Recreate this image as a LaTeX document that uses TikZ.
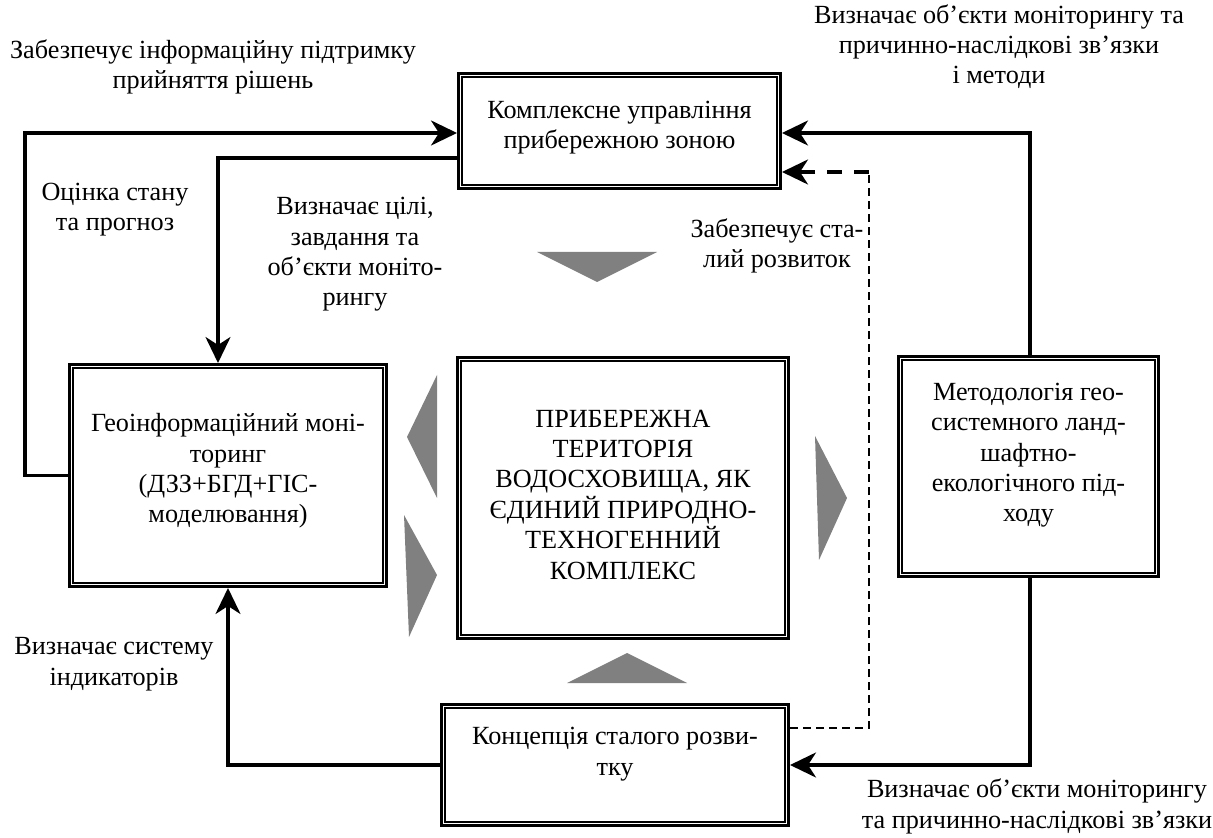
\documentclass[tikz,border=0pt]{standalone}
\usepackage{fontspec}
\setmainfont{Liberation Serif}
\usetikzlibrary{arrows.meta}

\tikzset{
  frame/.style={draw, line width=1.5pt, inner sep=0pt},
  txt/.style={align=center, anchor=base, inner sep=0pt, font=\fontsize{13.1}{15.2}\selectfont},
  link/.style={line width=1.6pt, -{Stealth[length=13pt, width=12.5pt, inset=4pt]}},
  wedge/.style={fill=gray, draw=none}
}

\begin{document}
\begin{tikzpicture}[x=0.5pt, y=-0.5pt]
    \useasboundingbox (0,0) rectangle (1213,838);
    % frames
    \node[frame, minimum width=161pt, minimum height=57.5pt] (kuz) at (619.5,131) {};
    \node[frame, minimum width=158.5pt, minimum height=111pt] (geo) at (228,475.5) {};
    \node[frame, minimum width=165.5pt, minimum height=140.5pt] (pt) at (623,498) {};
    \node[frame, minimum width=130pt, minimum height=110pt] (met) at (1028.5,466.5) {};
    \node[frame, minimum width=173.5pt, minimum height=60.5pt] (kon) at (615,765) {};
    \foreach \b in {kuz,geo,pt,met,kon}
      \draw[line width=0.75pt] ([shift={(5,5)}]\b.north west) rectangle ([shift={(-5,-5)}]\b.south east);

    % texts in frames (base = last line)
    \node[txt] (kuzt) at (619.5,149) {Комплексне управління\\прибережною зоною};
    \node[txt] (geot) at (228,523) {Геоінформаційний моні-\\торинг\\(ДЗЗ+БГД+ГІС-\\моделювання)};
    \node[txt] (ptt) at (623,579) {ПРИБЕРЕЖНА\\ТЕРИТОРІЯ\\ВОДОСХОВИЩА, ЯК\\ЄДИНИЙ ПРИРОДНО-\\ТЕХНОГЕННИЙ\\КОМПЛЕКС};
    \node[txt] (mett) at (1028.5,522) {Методологія гео-\\системного ланд-\\шафтно-\\екологічного під-\\ходу};
    \node[txt] (kont) at (615,775) {Концепція сталого розви-\\тку};

    % labels
    \node[txt] (l1) at (213,89) {Забезпечує інформаційну підтримку\\прийняття рішень};
    \node[txt] (l2) at (115,231) {Оцінка стану\\та прогноз};
    \node[txt] (l3) at (355,306) {Визначає цілі,\\завдання та\\об’єкти моніто-\\рингу};
    \node[txt] (l4) at (777,268) {Забезпечує ста-\\лий розвиток};
    \node[txt] (l5) at (999,84) {Визначає об’єкти моніторингу та\\причинно-наслідкові зв’язки\\і методи};
    \node[txt] (l6) at (114,685) {Визначає систему\\індикаторів};
    \node[txt] (l7) at (1037,828) {Визначає об’єкти моніторингу\\та причинно-наслідкові зв’язки};

    % grey wedges
    \fill[wedge] (537,252) -- (657,252) -- (597,282) -- cycle;
    \fill[wedge] (567,683) -- (687,683) -- (627,653) -- cycle;
    \fill[wedge] (437,375) -- (437,498) -- (407,437) -- cycle;
    \fill[wedge] (404,515) -- (409,637) -- (437,575) -- cycle;
    \fill[wedge] (815,436) -- (819,560) -- (847,498) -- cycle;

    % links
    \draw[link] (geo.west) -| (25,133) -- (kuz.west |- 0,133);
    \draw[link] (kuz.west |- 0,158) -| (218,0 |- geo.north);
    \draw[link] (1030,0 |- met.north) |- (kuz.east |- 0,133);
    \draw[link] (1030,0 |- met.south) |- (kon.east);
    \draw[link] (kon.west) -| (geo.south);
    \coordinate (dc) at (869,172);
    \draw[line width=0.75pt, dash pattern=on 4pt off 2.5pt] (kon.east |- 0,728) -| (dc);
    \draw[link, dash pattern=on 7.5pt off 6pt] (dc) -- (kuz.east |- dc);
\end{tikzpicture}
\end{document}
